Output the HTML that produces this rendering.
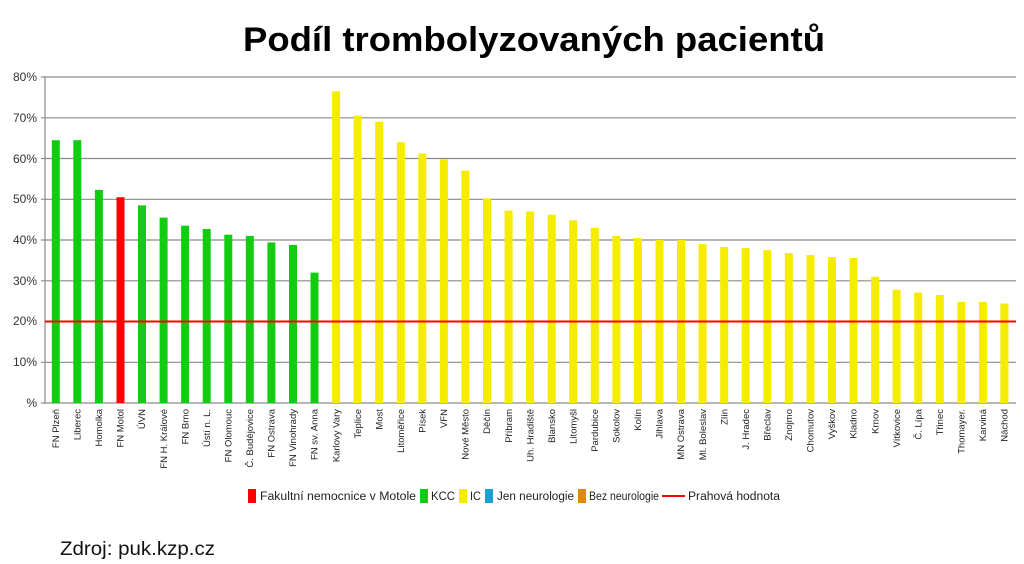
<!DOCTYPE html>
<html><head><meta charset="utf-8"><style>
html,body{margin:0;padding:0;background:#fff}
svg{display:block}
.t{font-family:"Liberation Sans",sans-serif}
rect.b{width:8px}
</style></head><body>
<svg width="1024" height="564" viewBox="0 0 1024 564" xmlns="http://www.w3.org/2000/svg">
<text class="t" x="243" y="51" font-size="34" font-weight="bold" textLength="582" lengthAdjust="spacingAndGlyphs">Podíl trombolyzovaných pacientů</text>
<g stroke="#8a8a8a" stroke-width="1.2">
<line x1="41" y1="77" x2="1016" y2="77"/>
<line x1="41" y1="117.8" x2="1016" y2="117.8"/>
<line x1="41" y1="158.5" x2="1016" y2="158.5"/>
<line x1="41" y1="199.3" x2="1016" y2="199.3"/>
<line x1="41" y1="240" x2="1016" y2="240"/>
<line x1="41" y1="280.8" x2="1016" y2="280.8"/>
<line x1="41" y1="362.3" x2="1016" y2="362.3"/>
<line x1="41" y1="403" x2="1016" y2="403"/>
<line x1="45" y1="77" x2="45" y2="403"/>
</g>
<g class="t" font-size="12" fill="#333" text-anchor="end">
<text x="37" y="81">80%</text><text x="37" y="122">70%</text><text x="37" y="163">60%</text><text x="37" y="203">50%</text><text x="37" y="244">40%</text><text x="37" y="285">30%</text><text x="37" y="325">20%</text><text x="37" y="366">10%</text><text x="37" y="407">%</text>
</g>
<g fill="#11cc11">
<rect x="51.8" y="140.2" width="8" height="262.8"/>
<rect x="73.3" y="140.2" width="8" height="262.8"/>
<rect x="94.9" y="189.9" width="8" height="213.1"/>
<rect x="138" y="205.4" width="8" height="197.6"/>
<rect x="159.6" y="217.6" width="8" height="185.4"/>
<rect x="181.1" y="225.7" width="8" height="177.3"/>
<rect x="202.7" y="229" width="8" height="174"/>
<rect x="224.3" y="234.7" width="8" height="168.3"/>
<rect x="245.8" y="235.9" width="8" height="167.1"/>
<rect x="267.4" y="242.4" width="8" height="160.6"/>
<rect x="289" y="244.9" width="8" height="158.1"/>
<rect x="310.5" y="272.6" width="8" height="130.4"/>
</g>
<rect x="116.5" y="197.2" width="8" height="205.8" fill="#ff0000"/>
<g fill="#f5ec00">
<rect x="332.1" y="91.3" width="8" height="311.7"/>
<rect x="353.6" y="115.7" width="8" height="287.3"/>
<rect x="375.2" y="121.8" width="8" height="281.2"/>
<rect x="396.8" y="142.2" width="8" height="260.8"/>
<rect x="418.3" y="153.6" width="8" height="249.4"/>
<rect x="439.9" y="159.3" width="8" height="243.7"/>
<rect x="461.4" y="170.7" width="8" height="232.3"/>
<rect x="483" y="198.4" width="8" height="204.6"/>
<rect x="504.6" y="210.7" width="8" height="192.3"/>
<rect x="526.1" y="211.5" width="8" height="191.5"/>
<rect x="547.7" y="214.7" width="8" height="188.3"/>
<rect x="569.2" y="220.4" width="8" height="182.6"/>
<rect x="590.8" y="227.8" width="8" height="175.2"/>
<rect x="612.4" y="235.9" width="8" height="167.1"/>
<rect x="633.9" y="238" width="8" height="165"/>
<rect x="655.5" y="240" width="8" height="163"/>
<rect x="677" y="240" width="8" height="163"/>
<rect x="698.6" y="244.1" width="8" height="158.9"/>
<rect x="720.2" y="246.9" width="8" height="156.1"/>
<rect x="741.7" y="248.1" width="8" height="154.9"/>
<rect x="763.3" y="250.2" width="8" height="152.8"/>
<rect x="784.8" y="253" width="8" height="150"/>
<rect x="806.4" y="255.1" width="8" height="147.9"/>
<rect x="828" y="257.1" width="8" height="145.9"/>
<rect x="849.5" y="257.9" width="8" height="145.1"/>
<rect x="871.1" y="276.7" width="8" height="126.3"/>
<rect x="892.6" y="289.7" width="8" height="113.3"/>
<rect x="914.2" y="292.6" width="8" height="110.4"/>
<rect x="935.8" y="295" width="8" height="108"/>
<rect x="957.3" y="301.9" width="8" height="101.1"/>
<rect x="978.9" y="301.9" width="8" height="101.1"/>
<rect x="1000.4" y="303.6" width="8" height="99.4"/>
</g>
<line x1="45" y1="321.5" x2="1016" y2="321.5" stroke="#ff0000" stroke-width="2"/>
<g class="t" font-size="9.5" fill="#222" text-anchor="end">
<text transform="translate(59,409) rotate(-90)">FN Plzeň</text>
<text transform="translate(80.5,409) rotate(-90)">Liberec</text>
<text transform="translate(102.1,409) rotate(-90)">Homolka</text>
<text transform="translate(123.7,409) rotate(-90)">FN Motol</text>
<text transform="translate(145.2,409) rotate(-90)">ÚVN</text>
<text transform="translate(166.8,409) rotate(-90)">FN H. Králové</text>
<text transform="translate(188.3,409) rotate(-90)">FN Brno</text>
<text transform="translate(209.9,409) rotate(-90)">Ústí n. L.</text>
<text transform="translate(231.5,409) rotate(-90)">FN Olomouc</text>
<text transform="translate(253,409) rotate(-90)">Č. Budějovice</text>
<text transform="translate(274.6,409) rotate(-90)">FN Ostrava</text>
<text transform="translate(296.2,409) rotate(-90)">FN Vinohrady</text>
<text transform="translate(317.7,409) rotate(-90)">FN sv. Anna</text>
<text transform="translate(339.3,409) rotate(-90)">Karlovy Vary</text>
<text transform="translate(360.8,409) rotate(-90)">Teplice</text>
<text transform="translate(382.4,409) rotate(-90)">Most</text>
<text transform="translate(404,409) rotate(-90)">Litoměřice</text>
<text transform="translate(425.5,409) rotate(-90)">Písek</text>
<text transform="translate(447.1,409) rotate(-90)">VFN</text>
<text transform="translate(468.6,409) rotate(-90)">Nové Město</text>
<text transform="translate(490.2,409) rotate(-90)">Děčín</text>
<text transform="translate(511.8,409) rotate(-90)">Příbram</text>
<text transform="translate(533.3,409) rotate(-90)">Uh. Hradiště</text>
<text transform="translate(554.9,409) rotate(-90)">Blansko</text>
<text transform="translate(576.4,409) rotate(-90)">Litomyšl</text>
<text transform="translate(598,409) rotate(-90)">Pardubice</text>
<text transform="translate(619.6,409) rotate(-90)">Sokolov</text>
<text transform="translate(641.1,409) rotate(-90)">Kolín</text>
<text transform="translate(662.7,409) rotate(-90)">Jihlava</text>
<text transform="translate(684.2,409) rotate(-90)">MN Ostrava</text>
<text transform="translate(705.8,409) rotate(-90)">Ml. Boleslav</text>
<text transform="translate(727.4,409) rotate(-90)">Zlín</text>
<text transform="translate(748.9,409) rotate(-90)">J. Hradec</text>
<text transform="translate(770.5,409) rotate(-90)">Břeclav</text>
<text transform="translate(792,409) rotate(-90)">Znojmo</text>
<text transform="translate(813.6,409) rotate(-90)">Chomutov</text>
<text transform="translate(835.2,409) rotate(-90)">Vyškov</text>
<text transform="translate(856.7,409) rotate(-90)">Kladno</text>
<text transform="translate(878.3,409) rotate(-90)">Krnov</text>
<text transform="translate(899.8,409) rotate(-90)">Vítkovice</text>
<text transform="translate(921.4,409) rotate(-90)">Č. Lípa</text>
<text transform="translate(943,409) rotate(-90)">Třinec</text>
<text transform="translate(964.5,409) rotate(-90)">Thomayer.</text>
<text transform="translate(986.1,409) rotate(-90)">Karviná</text>
<text transform="translate(1007.6,409) rotate(-90)">Náchod</text>
</g>
<g class="t" font-size="11.5" fill="#222">
<rect x="248" y="489" width="8" height="14" fill="#ff0000"/>
<text x="260" y="500" textLength="156" lengthAdjust="spacingAndGlyphs">Fakultní nemocnice v Motole</text>
<rect x="420" y="489" width="8" height="14" fill="#11cc11"/>
<text x="431" y="500" textLength="24" lengthAdjust="spacingAndGlyphs">KCC</text>
<rect x="459" y="489" width="8" height="14" fill="#f5ec00"/>
<text x="470" y="500" textLength="11" lengthAdjust="spacingAndGlyphs">IC</text>
<rect x="485" y="489" width="8" height="14" fill="#1a9fd0"/>
<text x="497" y="500" textLength="77" lengthAdjust="spacingAndGlyphs">Jen neurologie</text>
<rect x="578" y="489" width="8" height="14" fill="#e08a00"/>
<text x="589" y="500" textLength="70" lengthAdjust="spacingAndGlyphs">Bez neurologie</text>
<line x1="662" y1="496" x2="685" y2="496" stroke="#ff0000" stroke-width="2"/>
<text x="688" y="500" textLength="92" lengthAdjust="spacingAndGlyphs">Prahová hodnota</text>
</g>
<text class="t" x="60" y="555" font-size="19" fill="#111" textLength="155" lengthAdjust="spacingAndGlyphs">Zdroj: puk.kzp.cz</text>
</svg>
</body></html>
